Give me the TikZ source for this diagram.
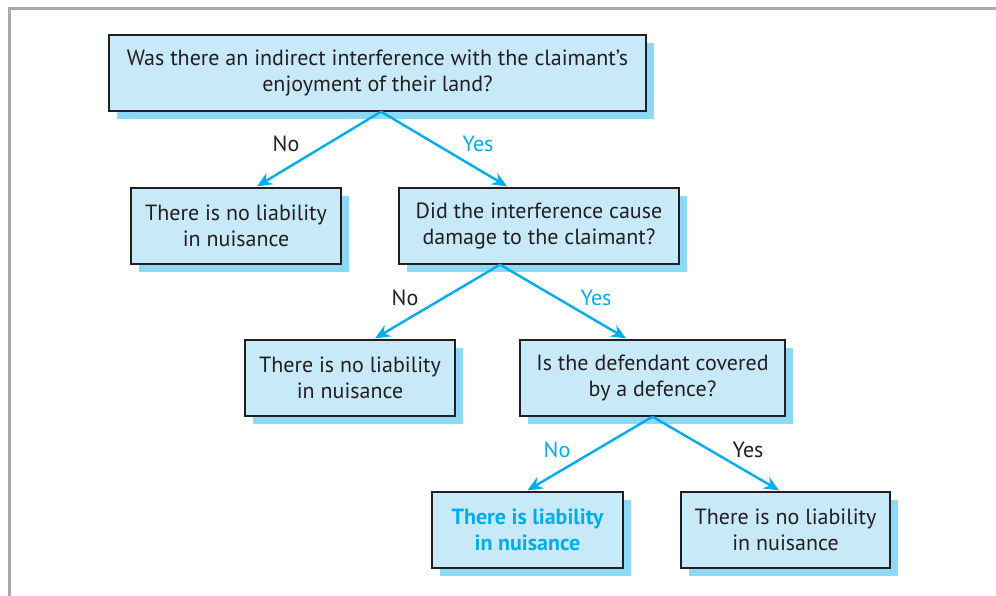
\documentclass[tikz,border=0pt]{standalone}
\usepackage{fontspec}
\setmainfont{PT Sans}
\usetikzlibrary{arrows.meta,shadows,calc}
\definecolor{boxfill}{HTML}{C8EAF8}
\definecolor{shadowc}{HTML}{8DD8F5}
\definecolor{cyanc}{HTML}{00AEEF}
\definecolor{inkc}{HTML}{231F20}
\definecolor{framec}{HTML}{A7A9AC}
\tikzset{
  qbox/.style={draw=inkc, line width=1.3pt, fill=boxfill, align=center, text=inkc,
    minimum height=76pt, inner sep=0pt, font=\fontsize{22}{26.5}\selectfont,
    general shadow={shadow xshift=8pt, shadow yshift=-8pt, fill=shadowc}},
  arr/.style={draw=cyanc, line width=2.4pt, -{Stealth[length=15pt,width=13pt,inset=5pt]}},
  lbl/.style={font=\fontsize{22}{26}\selectfont, text=inkc, inner sep=0pt},
  lblc/.style={lbl, text=cyanc},
}
\begin{document}
\begin{tikzpicture}[x=1pt,y=-1pt]
\useasboundingbox (0,0) rectangle (996,596);
\draw[framec, line width=2.5pt] (9.7,596) -- (9.7,8.3) -- (996,8.3);
\node[qbox, minimum width=537pt] (q1) at (377.5,73) {Was there an indirect interference with the claimant’s\\enjoyment of their land?};
\node[qbox, minimum width=210pt] (n1) at (236,226) {There is no liability\\in nuisance};
\node[qbox, minimum width=280pt] (q2) at (539,226) {Did the interference cause\\damage to the claimant?};
\node[qbox, minimum width=210pt] (n2) at (350,378) {There is no liability\\in nuisance};
\node[qbox, minimum width=265pt] (q3) at (652.5,378) {Is the defendant covered\\by a defence?};
\node[qbox, minimum width=191pt, text=cyanc, font=\fontsize{22}{26.5}\selectfont\bfseries] (y3) at (527.5,530) {There is liability\\in nuisance};
\node[qbox, minimum width=209pt] (n3) at (785.5,530) {There is no liability\\in nuisance};
\coordinate (a1) at ($(q1.south)+(3.5,0)$);
\coordinate (a2) at ($(q2.south)+(-39,0)$);
\coordinate (a3) at ($(q3.south)+(0,0)$);
\draw[arr] (a1) -- ($(n1.north)+(21,-1)$);
\draw[arr] (a1) -- ($(q2.north)+(-32,-1)$);
\draw[arr] (a2) -- ($(n2.north)+(25,-1)$);
\draw[arr] (a2) -- ($(q3.north)+(-26.5,-1)$);
\draw[arr] (a3) -- ($(y3.north)+(0,-1)$);
\draw[arr] (a3) -- ($(n3.north)+(-6.5,-1)$);
\node[lbl] (l1) at (286,144) {No};
\node[lblc] (l2) at (478,144) {Yes};
\node[lbl] (l3) at (405,298) {No};
\node[lblc] (l4) at (596,298) {Yes};
\node[lblc] (l5) at (557,450) {No};
\node[lbl] (l6) at (748,450) {Yes};
\end{tikzpicture}
\end{document}
